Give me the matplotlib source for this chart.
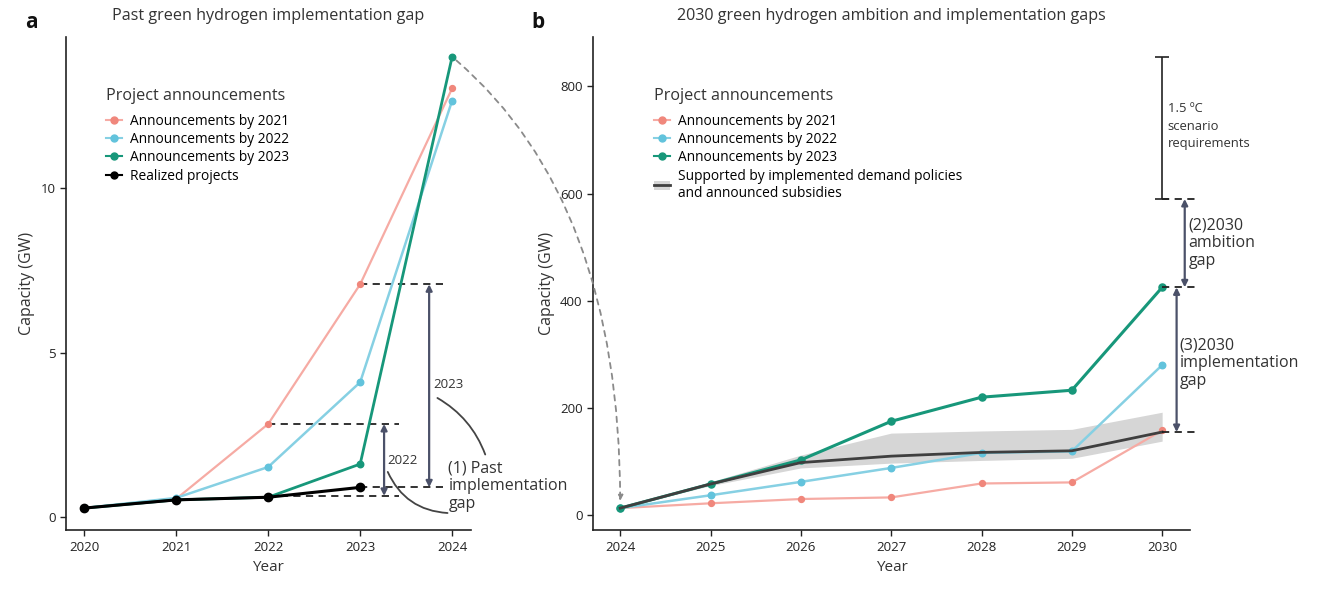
import matplotlib
matplotlib.use("Agg")
import matplotlib.pyplot as plt
from matplotlib.lines import Line2D
from matplotlib.patches import Patch, ConnectionPatch

plt.rcParams['font.family'] = ['Open Sans', 'DejaVu Sans']

# ---- Panel a data: past announcements vs realized capacity (GW)
years_a = [2020, 2021, 2022, 2023, 2024]
ann2021_a = [0.27, 0.55, 2.83, 7.08, 13.04]
ann2022_a = [0.27, 0.58, 1.52, 4.10, 12.67]
ann2023_a = [0.27, 0.52, 0.60, 1.61, 14.00]
years_real = [2020, 2021, 2022, 2023]
realized = [0.27, 0.52, 0.60, 0.90]

# ---- Panel b data: 2030 outlook (GW)
years_b = [2024, 2025, 2026, 2027, 2028, 2029, 2030]
ann2021_b = [13, 22, 30, 33, 59, 61, 158]
ann2022_b = [13, 37, 62, 88, 116, 119, 280]
ann2023_b = [13, 58, 103, 175, 220, 233, 425]
policy_mid = [13, 58, 98, 110, 117, 120, 155]
policy_lo = [13, 55, 88, 97, 102, 106, 138]
policy_hi = [13, 62, 112, 153, 157, 160, 192]
scenario_lo, scenario_hi = 590, 855

c21 = '#F0877C'
c21_line = '#F6ABA4'
c22 = '#62C3DC'
c22_line = '#86D0E3'
c23 = '#17977A'
cgap = '#4B5169'
ctext = '#333333'

fig = plt.figure(figsize=(13.18, 5.89), dpi=100)
axa = fig.add_axes([0.050, 0.100, 0.307, 0.837])
axb = fig.add_axes([0.450, 0.100, 0.453, 0.837])

for ax in (axa, axb):
    ax.patch.set_visible(False)
    for s in ('top', 'right'):
        ax.spines[s].set_visible(False)
    for s in ('left', 'bottom'):
        ax.spines[s].set_linewidth(1.2)
        ax.spines[s].set_color('#222222')
    ax.tick_params(direction='out', length=4, width=1, labelsize=9.5, colors='#222222')

# ---------------- Panel a
axa.plot(years_a, ann2021_a, color=c21_line, lw=1.6, zorder=2)
axa.scatter(years_a[1:], ann2021_a[1:], color=c21, s=18, zorder=3)
axa.plot(years_a, ann2022_a, color=c22_line, lw=1.8, zorder=2)
axa.scatter(years_a[1:], ann2022_a[1:], color=c22, s=22, zorder=3)
axa.plot(years_a, ann2023_a, color=c23, lw=2.0, zorder=3)
axa.scatter(years_a[1:], ann2023_a[1:], color=c23, s=22, zorder=4)
axa.plot(years_real, realized, color='black', lw=2.2, marker='o', ms=6, zorder=5)

axa.set_xlim(2019.80, 2024.20)
axa.set_ylim(-0.4, 14.6)
axa.set_xticks(years_a)
axa.set_yticks([0, 5, 10])
axa.set_xlabel('Year', fontsize=11, color=ctext, labelpad=5)
axa.set_ylabel('Capacity (GW)', fontsize=11.5, color=ctext)
axa.set_title('Past green hydrogen implementation gap', fontsize=11.6, color=ctext, pad=12)

dash = dict(color='#222222', lw=1.3, ls=(0, (4, 3)), zorder=1)
axa.plot([2022, 2023.42], [ann2021_a[2], ann2021_a[2]], **dash)
axa.plot([2022, 2023.42], [realized[2] + 0.04, realized[2] + 0.04], **dash)
axa.plot([2023, 2023.9], [ann2021_a[3], ann2021_a[3]], **dash)
axa.plot([2023, 2023.9], [realized[3], realized[3]], **dash)

arr = dict(arrowstyle='<|-|>', color=cgap, lw=1.6, mutation_scale=9, shrinkA=0, shrinkB=0)
axa.annotate('', xy=(2023.26, realized[2] + 0.04), xytext=(2023.26, ann2021_a[2]), arrowprops=arr)
axa.annotate('', xy=(2023.75, realized[3]), xytext=(2023.75, ann2021_a[3]), arrowprops=arr)
axa.text(2023.29, 1.72, '2022', fontsize=9.5, color=ctext, va='center', ha='left')
axa.text(2023.80, 4.04, '2023', fontsize=9.5, color=ctext, va='center', ha='left')
axa.text(2023.96, 0.94, '(1) Past\nimplementation\ngap', fontsize=11.5, color=ctext,
         va='center', ha='left', linespacing=1.15)
axa.annotate('', xy=(2024.36, 1.9), xytext=(2023.84, 3.62), annotation_clip=False,
             arrowprops=dict(arrowstyle='-', color='#444444', lw=1.3, shrinkA=0, shrinkB=0,
                             connectionstyle='arc3,rad=-0.18'))
axa.annotate('', xy=(2023.95, 0.12), xytext=(2023.30, 1.37), annotation_clip=False,
             arrowprops=dict(arrowstyle='-', color='#444444', lw=1.3, shrinkA=0, shrinkB=0,
                             connectionstyle='arc3,rad=0.3'))

leg_a = [Line2D([], [], color=c21_line, marker='o', mfc=c21, mec=c21, ms=5, lw=1.5),
         Line2D([], [], color=c22_line, marker='o', mfc=c22, mec=c22, ms=5, lw=1.5),
         Line2D([], [], color=c23, marker='o', ms=5, lw=1.5),
         Line2D([], [], color='black', marker='o', ms=5, lw=1.5)]
la = axa.legend(leg_a, ['Announcements by 2021', 'Announcements by 2022',
                        'Announcements by 2023', 'Realized projects'],
                title='Project announcements', loc='upper left', bbox_to_anchor=(0.085, 0.908),
                frameon=False, fontsize=9.9, title_fontsize=11.6, handlelength=1.2,
                handletextpad=0.55, labelspacing=0.24, borderaxespad=0)
la._legend_box.align = 'left'
la._legend_box.sep = 7
la.get_title().set_color(ctext)

# ---------------- Panel b
axb.fill_between(years_b, policy_lo, policy_hi, color='#D6D6D6', lw=0, zorder=1)
axb.plot(years_b, ann2021_b, color=c21_line, lw=1.6, zorder=2)
axb.scatter(years_b, ann2021_b, color=c21, s=18, zorder=3)
axb.plot(years_b, ann2022_b, color=c22_line, lw=1.8, zorder=2)
axb.scatter(years_b, ann2022_b, color=c22, s=22, zorder=3)
axb.plot(years_b, ann2023_b, color=c23, lw=2.2, zorder=3)
axb.scatter(years_b, ann2023_b, color=c23, s=26, zorder=4)
axb.plot(years_b, policy_mid, color='#3F3F3F', lw=2.0, zorder=5)

axb.set_xlim(2023.70, 2030.31)
axb.set_ylim(-28, 892)
axb.set_xticks(years_b)
axb.set_yticks([0, 200, 400, 600, 800])
axb.set_xlabel('Year', fontsize=11, color=ctext, labelpad=5)
axb.set_ylabel('Capacity (GW)', fontsize=11.5, color=ctext)
axb.set_title('2030 green hydrogen ambition and implementation gaps', fontsize=11.6,
              color=ctext, pad=12)

# 1.5 degC requirement range
axb.errorbar([2030.0], [(scenario_lo + scenario_hi) / 2],
             yerr=[[(scenario_hi - scenario_lo) / 2]], color='#222222', lw=1.2,
             capsize=5, capthick=1.2, clip_on=False, zorder=6)
axb.text(2030.06, 726, '1.5 ºC\nscenario\nrequirements', fontsize=9.4, color=ctext,
         va='center', ha='left', linespacing=1.45)

dashb = dict(color='#222222', lw=1.3, ls=(0, (4, 3)), clip_on=False, zorder=6)
axb.plot([2030.0, 2030.38], [scenario_lo, scenario_lo], **dashb)
axb.plot([2030.0, 2030.38], [ann2023_b[-1], ann2023_b[-1]], **dashb)
axb.plot([2030.0, 2030.36], [policy_mid[-1], policy_mid[-1]], **dashb)

arrb = dict(arrowstyle='<|-|>', color=cgap, lw=1.6, mutation_scale=9, shrinkA=0, shrinkB=0)
axb.annotate('', xy=(2030.25, ann2023_b[-1]), xytext=(2030.25, scenario_lo),
             arrowprops=arrb, annotation_clip=False)
axb.annotate('', xy=(2030.16, policy_mid[-1]), xytext=(2030.16, ann2023_b[-1]),
             arrowprops=arrb, annotation_clip=False)
axb.text(2030.29, 507, '(2)2030\nambition\ngap', fontsize=11.5, color=ctext,
         va='center', ha='left', linespacing=1.15)
axb.text(2030.19, 283, '(3)2030\nimplementation\ngap', fontsize=11.5, color=ctext,
         va='center', ha='left', linespacing=1.15)

leg_b = [Line2D([], [], color=c21_line, marker='o', mfc=c21, mec=c21, ms=5, lw=1.5),
         Line2D([], [], color=c22_line, marker='o', mfc=c22, mec=c22, ms=5, lw=1.5),
         Line2D([], [], color=c23, marker='o', ms=5, lw=1.5),
         (Patch(facecolor='#D6D6D6', edgecolor='none'),
          Line2D([], [], color='#3F3F3F', lw=2))]
lb = axb.legend(leg_b, ['Announcements by 2021', 'Announcements by 2022',
                        'Announcements by 2023',
                        'Supported by implemented demand policies\nand announced subsidies'],
                title='Project announcements', loc='upper left', bbox_to_anchor=(0.092, 0.908),
                frameon=False, fontsize=9.9, title_fontsize=11.6, handlelength=1.2,
                handletextpad=0.55, labelspacing=0.24, borderaxespad=0)
lb._legend_box.align = 'left'
lb._legend_box.sep = 7
lb.get_title().set_color(ctext)

# Link from the 2024 value in panel a to the 2024 start in panel b
con = ConnectionPatch(xyA=(2024, ann2023_a[-1]), coordsA=axa.transData,
                      xyB=(2024, ann2023_b[0] + 8), coordsB=axb.transData,
                      arrowstyle='-|>', color='#8A8A8A', lw=1.3, ls=(0, (3, 3)),
                      mutation_scale=8, shrinkA=4, shrinkB=2,
                      connectionstyle='angle3,angleA=-40,angleB=90', zorder=3)
fig.add_artist(con)

fig.text(0.019, 0.953, 'a', fontsize=15, fontweight='bold', color='#111111')
fig.text(0.403, 0.953, 'b', fontsize=15, fontweight='bold', color='#111111')

fig.savefig('out.png', dpi=100)
